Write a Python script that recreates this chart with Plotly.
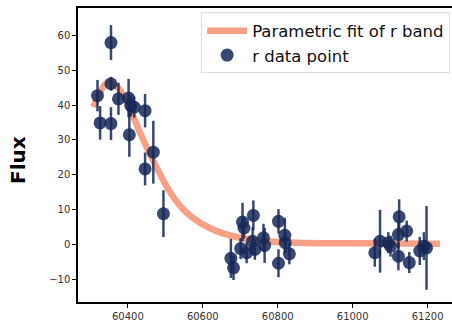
import plotly.graph_objects as go

# r-band photometry: epoch (MJD), flux and 1-sigma uncertainty
mjd = [60319, 60326, 60355, 60355, 60355, 60375, 60402, 60408, 60404, 60417,
       60446, 60446, 60468, 60495,
       60675, 60682, 60701, 60706, 60710, 60717, 60735, 60733, 60739, 60762,
       60765, 60802, 60802, 60819, 60820, 60831,
       61059, 61073, 61095, 61101, 61122, 61124, 61122, 61144, 61151, 61179,
       61190, 61197]
flux = [42.7, 34.9, 57.9, 46.1, 34.7, 41.8, 42.0, 39.8, 31.5, 39.4,
        38.4, 21.7, 26.5, 8.9,
        -3.9, -6.6, -1.1, 6.5, 4.8, -2.3, 8.4, 1.0, -1.3, 2.0,
        -0.2, 6.7, -5.3, 2.7, 0.6, -2.6,
        -2.3, 1.0, 0.6, -0.4, 2.9, 8.0, -3.3, 3.9, -5.1, -1.8,
        -0.4, -0.9]
flux_err = [4.5, 4.8, 5.0, 2.0, 4.7, 4.6, 5.5, 3.0, 6.3, 3.0,
            4.8, 4.7, 9.0, 6.7,
            5.6, 3.5, 3.0, 5.5, 3.0, 3.0, 4.3, 4.0, 3.0, 4.0,
            5.0, 3.5, 4.0, 5.0, 3.0, 3.0,
            4.0, 9.0, 3.0, 3.0, 4.0, 5.0, 4.0, 3.0, 3.0, 4.0,
            4.0, 12.0]

# Sampled parametric light-curve fit
fit_mjd = [60308, 60325, 60344, 60371, 60406, 60433, 60468, 60513, 60548,
           60593, 60637, 60699, 60760, 60850, 61000, 61233]
fit_flux = [39.4, 43.5, 46.3, 45.3, 38.7, 32.0, 24.0, 15.0, 10.1,
            6.3, 3.9, 2.0, 1.1, 0.6, 0.4, 0.3]

x_ticks = [60400, 60600, 60800, 61000, 61200]
y_ticks = [-10, 0, 10, 20, 30, 40, 50, 60]

navy = "rgba(22,40,88,0.85)"

fig = go.Figure()
fig.add_trace(go.Scatter(
    x=fit_mjd, y=fit_flux, mode="lines", line_shape="spline",
    line=dict(color="rgba(244,138,102,0.8)", width=6.5),
    name="Parametric fit of r band"))
fig.add_trace(go.Scatter(
    x=mjd, y=flux, mode="markers",
    marker=dict(size=13, color=navy, line=dict(width=0)),
    error_y=dict(type="data", array=flux_err, color=navy, thickness=2.5, width=0),
    name="r data point"))

fig.update_layout(
    width=452, height=322,
    margin=dict(l=78, r=0, t=8, b=20),
    paper_bgcolor="white", plot_bgcolor="white",
    font=dict(family="DejaVu Sans", color="#333"),
    showlegend=True,
    legend=dict(x=0.995, y=0.985, xanchor="right", yanchor="top",
                bgcolor="rgba(255,255,255,0.85)", bordercolor="#dddddd",
                borderwidth=1, font=dict(size=16.5, color="#111"),
                tracegroupgap=0, itemwidth=40),
)
fig.update_xaxes(
    range=[60267, 61265], tickvals=x_ticks, ticktext=[str(v) for v in x_ticks],
    showgrid=False, zeroline=False, showline=True, linecolor="black",
    linewidth=1.5, mirror=True, ticks="outside", ticklen=4, tickcolor="black",
    tickfont=dict(size=10, color="#333"))
fig.update_yaxes(
    range=[-16.4, 67.8], tickvals=y_ticks,
    showgrid=False, zeroline=False, showline=True, linecolor="black",
    linewidth=1.5, ticks="outside", ticklen=4, tickcolor="black",
    tickfont=dict(size=10, color="#333"))

# y-axis label, placed left of the tick labels
fig.add_annotation(
    text="<b>Flux</b>", xref="paper", yref="paper", x=0, y=0.5,
    xanchor="center", yanchor="middle", xshift=-60, yshift=-5, textangle=-90,
    showarrow=False, font=dict(size=20, color="black"))

fig.write_html("out.html")
